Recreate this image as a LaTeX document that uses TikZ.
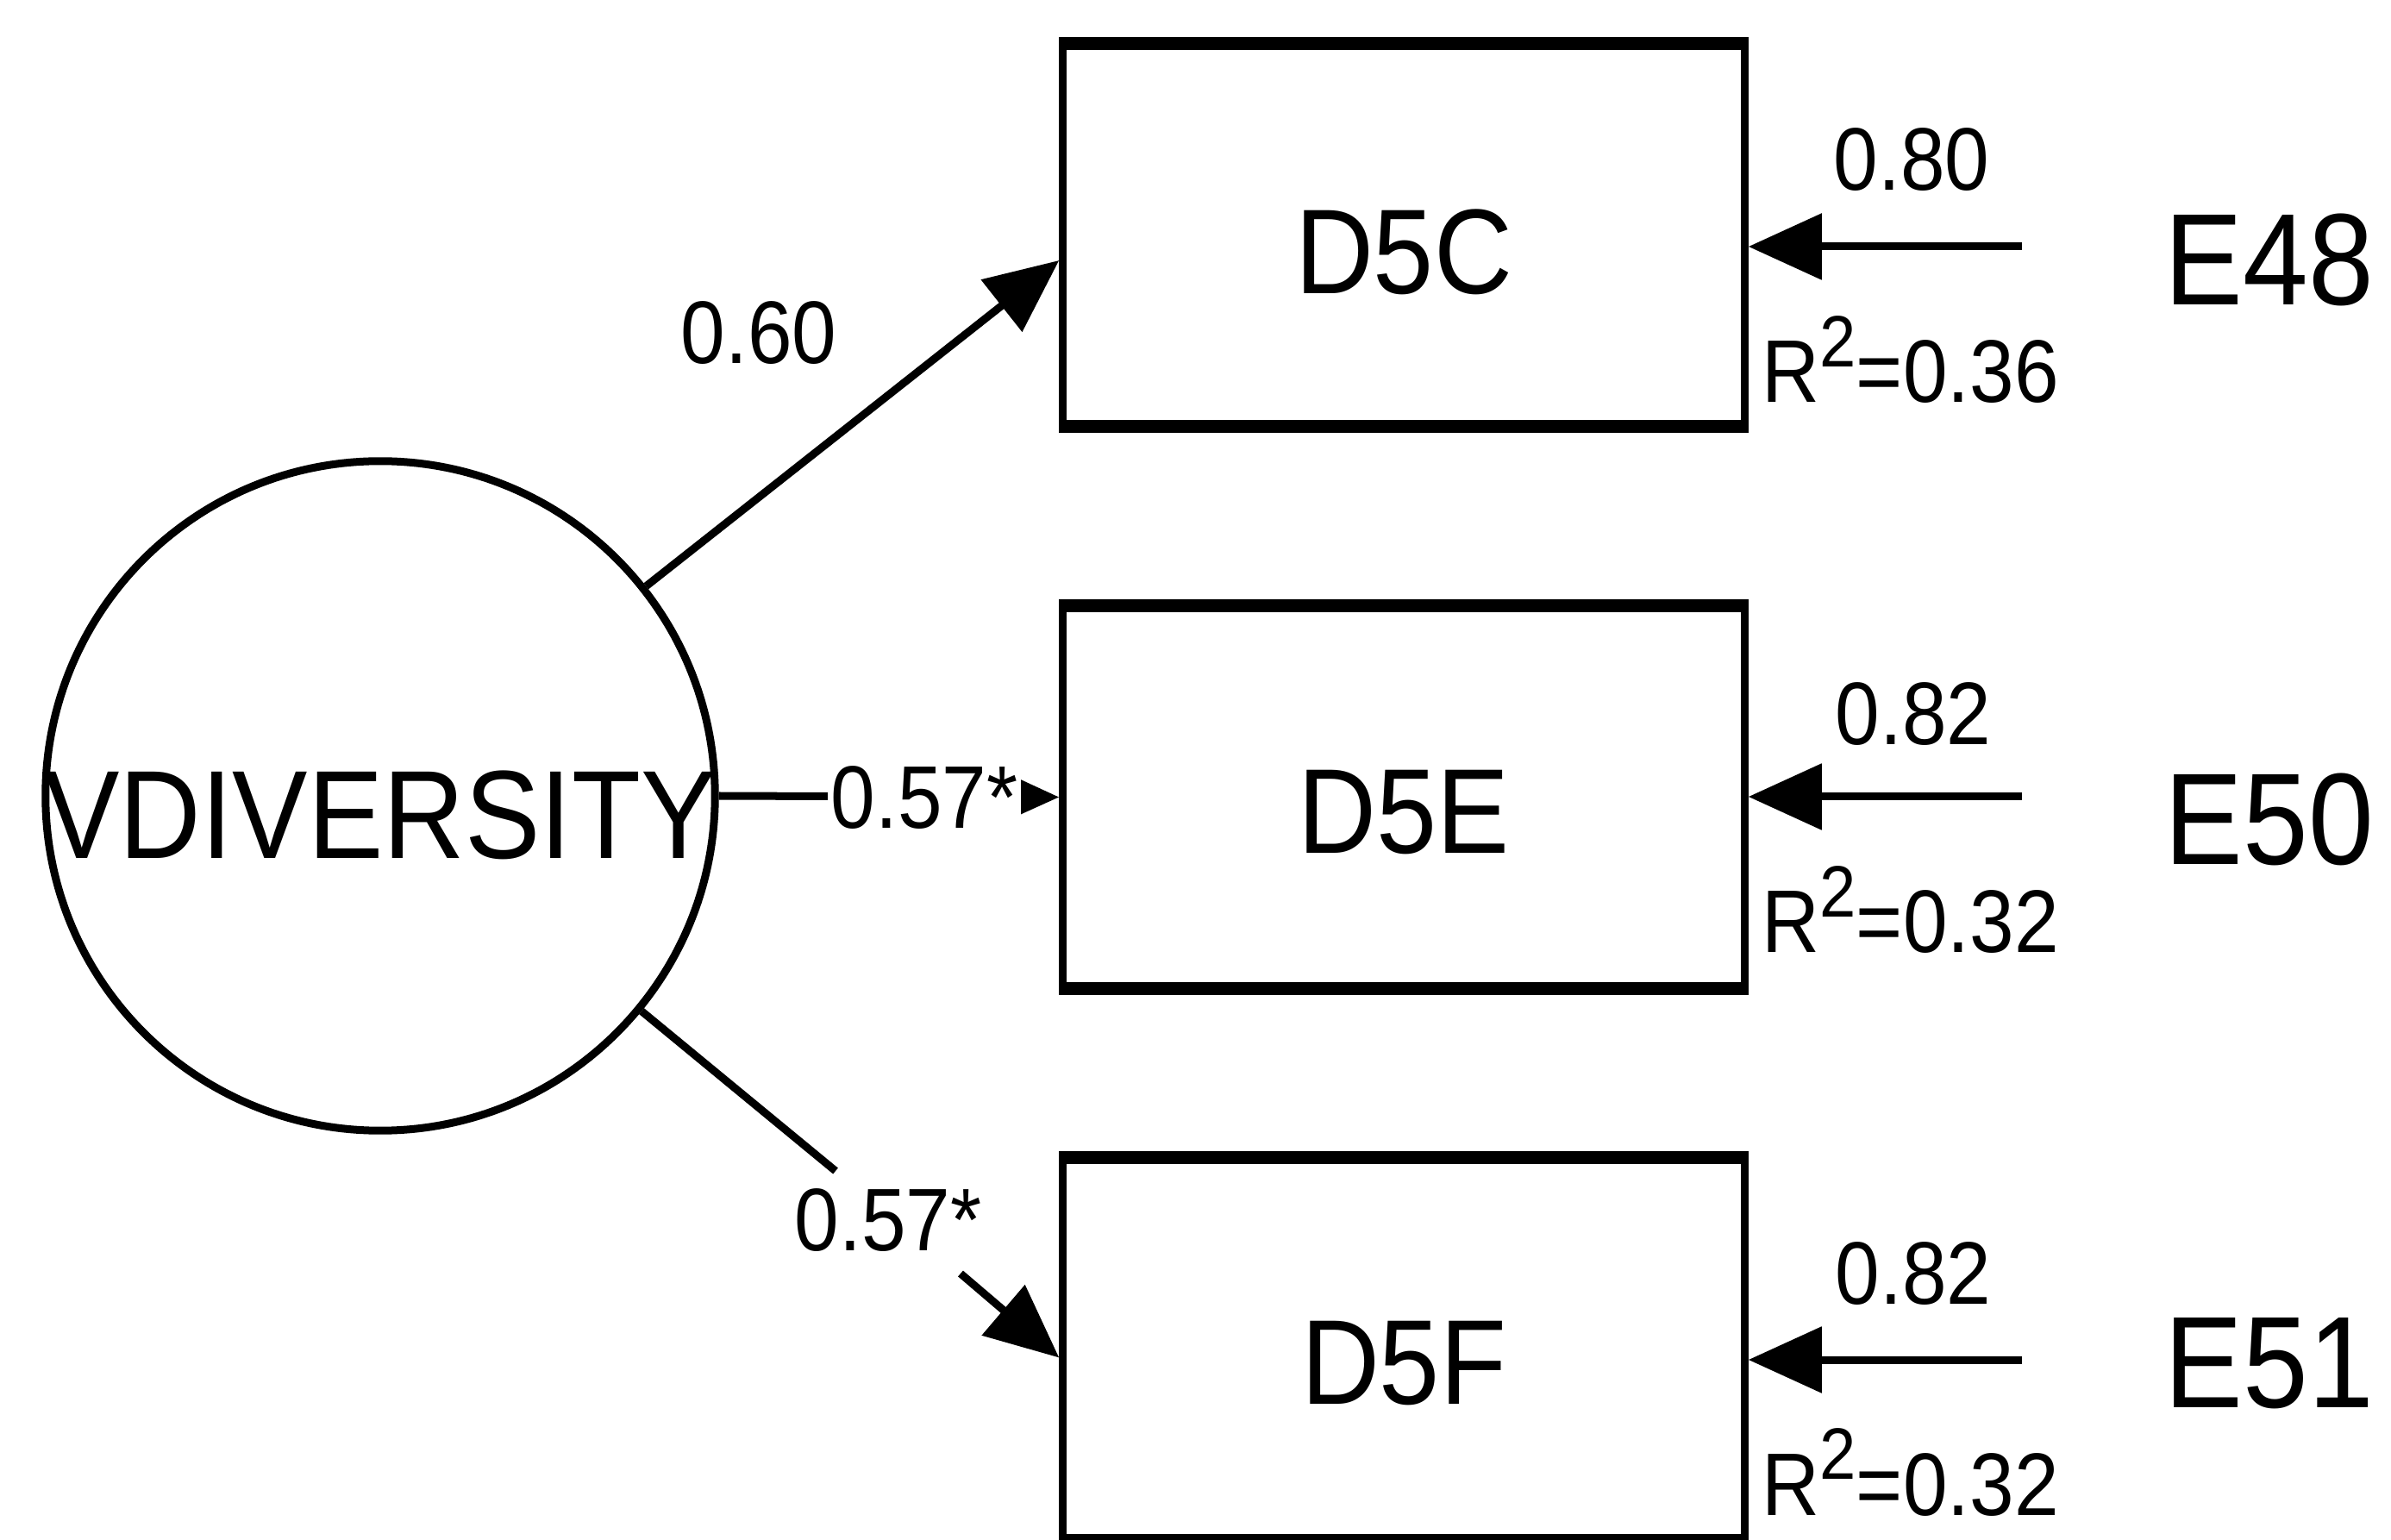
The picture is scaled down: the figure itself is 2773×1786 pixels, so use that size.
\documentclass[tikz,border=0pt]{standalone}
\usepackage{fontspec}
\setmainfont{Liberation Sans}[FakeStretch=0.9]
\usetikzlibrary{arrows.meta}
\begin{document}
\begin{tikzpicture}[x=0.01cm, y=-0.01cm,
  bigtxt/.style={font=\fontsize{39.8pt}{40pt}\selectfont, inner sep=0},
  lattxt/.style={font=\fontsize{41.4pt}{42pt}\selectfont, inner sep=0},
  etxt/.style={font=\fontsize{43pt}{44pt}\selectfont, inner sep=0},
  smalltxt/.style={font=\fontsize{29.3pt}{30pt}\selectfont, inner sep=0},
  obs/.style={draw, line width=0.09cm, minimum width=7.9cm, minimum height=4.37cm, inner sep=0},
  edgethick/.style={line width=0.13cm},
  latent/.style={draw, circle, line width=0.09cm, minimum size=7.76cm, inner sep=0},
  conn/.style={line width=0.09cm, -{Triangle[length=0.85cm,width=0.75cm]}},
  plainline/.style={line width=0.09cm},
]
\fill[white] (0,0) rectangle (2773,1786);
\useasboundingbox (0,0) rectangle (2773,1786);

% latent variable
\node[latent, label={[lattxt, yshift=-0.22cm]center:VDIVERSITY}] (vd) at (441,923) {};

% observed variables
\node[obs, label={[bigtxt, yshift=-0.2cm]center:D5C}] (d5c) at (1628,272.5) {};
\node[obs, label={[bigtxt, yshift=-0.18cm]center:D5E}] (d5e) at (1628,924.5) {};
\node[obs, label={[bigtxt, yshift=-0.17cm]center:D5F}] (d5f) at (1628,1564.5) {};
\foreach \b in {d5c,d5e,d5f}{
  \draw[edgethick] (\b.north west) -- (\b.north east);
  \draw[edgethick] (\b.south west) -- (\b.south east);
}

% error labels
\node[etxt] (e48) at (2632,301) {E48};
\node[etxt] (e50) at (2632,950) {E50};
\node[etxt] (e51) at (2632,1581) {E51};

% connectors from latent
\coordinate (c5tip) at ([yshift=-0.295cm]d5c.west);
\draw[conn] (vd) -- (c5tip);
\draw[conn] (vd.east) -- (d5e.west);
\coordinate (f1) at (969,1358);
\coordinate (f2) at (1114,1477);
\coordinate (f5tip) at ([yshift=-0.1cm]d5f.west);
\draw[plainline] (vd) -- (f1);
\draw[conn] (f2) -- (f5tip);

% error arrows
\coordinate (e48s) at (2345,286);
\coordinate (e50s) at (2345,924);
\coordinate (e51s) at (2345,1577);
\draw[conn] (e48s) -- (e48s -| d5c.east);
\draw[conn] (e50s) -- (e50s -| d5e.east);
\draw[conn] (e51s) -- (e51s -| d5f.east);

% coefficient labels
\node[smalltxt] (l060) at (880,386) {0.60};
\node[smalltxt, fill=white, inner xsep=0.04cm, inner ysep=0.05cm] (l057e) at (1072,925) {0.57*};
\node[smalltxt] (l057f) at (1030,1415) {0.57*};
\node[smalltxt] (l080) at (2217,185) {0.80};
\node[smalltxt] (l082e) at (2219,828) {0.82};
\node[smalltxt] (l082f) at (2219,1477) {0.82};

% R squared
\node[smalltxt, anchor=base west] (r48) at (2043,467) {R\raisebox{0.4em}{\fontsize{24pt}{24pt}\selectfont 2}=0.36};
\node[smalltxt, anchor=base west] (r50) at (2043,1105) {R\raisebox{0.4em}{\fontsize{24pt}{24pt}\selectfont 2}=0.32};
\node[smalltxt, anchor=base west] (r51) at (2043,1757) {R\raisebox{0.4em}{\fontsize{24pt}{24pt}\selectfont 2}=0.32};
\end{tikzpicture}
\end{document}
